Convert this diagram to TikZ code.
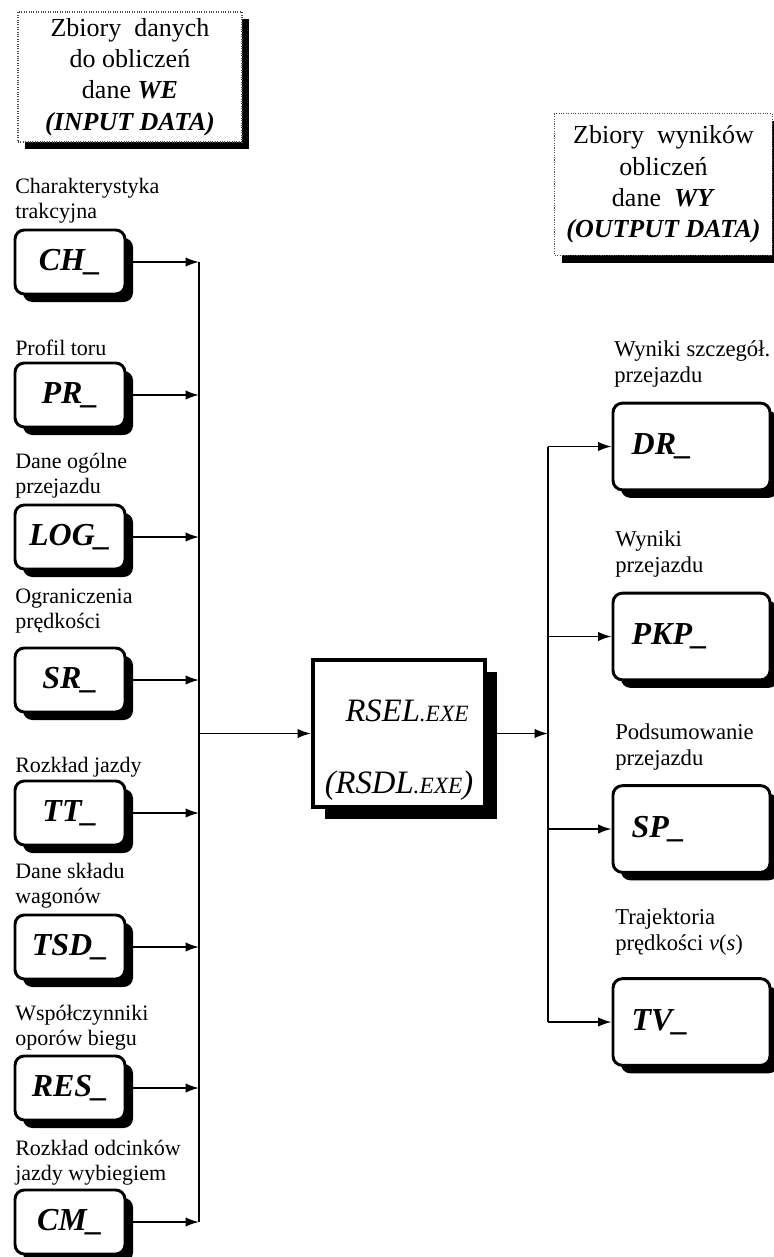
\documentclass[tikz,border=0pt]{standalone}
\usepackage{fontspec}
\setmainfont{Liberation Serif}
\usetikzlibrary{arrows.meta,shadows}

\newcommand{\smallexe}{{\fontsize{17.5}{17.5}\selectfont .EXE}}

\tikzset{
  hardshadow/.style={drop shadow={shadow xshift=#1, shadow yshift=-#1, fill=black, opacity=1}},
  groupbox/.style={draw=black!70, densely dotted, line width=0.8pt, fill=white,
    minimum width=168pt, minimum height=97.5pt, align=center, inner sep=2pt,
    font=\fontsize{19.5}{23.5}\selectfont, hardshadow=5.5pt},
  filebox/.style={draw, line width=2.2pt, rounded corners=7pt, fill=white,
    font=\fontsize{24}{24}\selectfont\bfseries\itshape, hardshadow=6pt},
  infile/.style={filebox, minimum width=82.5pt, minimum height=48pt, inner sep=0pt},
  outfile/.style={filebox, minimum height=65pt, inner xsep=14pt,
    text width=89.75pt, align=left},
  program/.style={draw, line width=3pt, fill=white, minimum width=129pt,
    minimum height=110pt, align=center, inner sep=0pt,
    font=\fontsize{24.5}{24.5}\selectfont\itshape, hardshadow=9pt},
  inlabel/.style={anchor=base west, align=left, inner sep=0pt,
    font=\fontsize{16.5}{18.5}\selectfont},
  outlabel/.style={anchor=base west, align=left, inner sep=0pt,
    font=\fontsize{17}{19.5}\selectfont},
  feed/.style={line width=1.3pt, -{Latex[length=10pt,width=7pt]}},
  bus/.style={line width=1pt}
}

\begin{document}
\begin{tikzpicture}[x=0.75pt, y=-0.75pt]
\useasboundingbox (0,0) rectangle (774,1257);

% headings of the two groups of files
\node[groupbox] (we) at (130,77)
  {Zbiory~~danych\\do obliczeń\\dane \textbf{\textit{WE}}\\\textbf{\textit{(INPUT DATA)}}};
\node[groupbox, minimum width=163pt, minimum height=106pt] (wy) at (663.5,184.5)
  {Zbiory~~wyników\\obliczeń\\dane~~\textbf{\textit{WY}}\\\textbf{\textit{(OUTPUT DATA)}}};

% input files
\node[infile] (ch)  at (70,262)  {CH\_};
\node[infile] (pr)  at (70,395)  {PR\_};
\node[infile] (log) at (70,537)  {LOG\_};
\node[infile] (sr)  at (70,680)  {SR\_};
\node[infile] (tt)  at (70,813)  {TT\_};
\node[infile] (tsd) at (70,947)  {TSD\_};
\node[infile] (res) at (70,1088) {RES\_};
\node[infile] (cm)  at (70,1222) {CM\_};

% captions above the input files (positions give the last baseline)
\node[inlabel] (chl)  at (15,218)  {Charakterystyka\\trakcyjna};
\node[inlabel] (prl)  at (15,355)  {Profil toru};
\node[inlabel] (logl) at (15,493)  {Dane ogólne\\przejazdu};
\node[inlabel] (srl)  at (15,628)  {Ograniczenia\\prędkości};
\node[inlabel] (ttl)  at (15,772)  {Rozkład jazdy};
\node[inlabel] (tsdl) at (15,903)  {Dane składu\\wagonów};
\node[inlabel] (resl) at (15,1045) {Współczynniki\\oporów biegu};
\node[inlabel] (cml)  at (15,1180) {Rozkład odcinków\\jazdy wybiegiem};

% the program
\node[program] (main) at (399,733.5)
  {\rule{0pt}{41pt}\hspace*{12pt}RSEL\smallexe\\[30pt](RSDL\smallexe)};

% output files
\node[outfile] (dr)  at (691.5,446.5) {DR\_};
\node[outfile] (pkp) at (691.5,636.5) {PKP\_};
\node[outfile] (sp)  at (691.5,829)   {SP\_};
\node[outfile] (tv)  at (691.5,1022)  {TV\_};

% captions above the output files (positions give the last baseline)
\node[outlabel] (drl)  at (614,382) {Wyniki szczegół.\\przejazdu};
\node[outlabel] (pkpl) at (615,572) {Wyniki\\przejazdu};
\node[outlabel] (spl)  at (615,765) {Podsumowanie\\przejazdu};
\node[outlabel] (tvl)  at (615,950) {Trajektoria\\prędkości \textit{v}(\textit{s})};

% collecting lines
\coordinate (busL) at (199,742);
\coordinate (busR) at (548,742);

\draw[bus] (busL |- ch.east) -- (busL |- cm.east);
\foreach \f in {ch,pr,log,sr,tt,tsd,res,cm}
  \draw[feed] (\f.east) -- (busL |- \f.east);
\draw[feed] (busL |- main.west) -- (main.west);

\draw[feed] (main.east) -- (busR |- main.east);
\draw[bus] (busR |- dr.west) -- (busR |- tv.west);
\foreach \f in {dr,pkp,sp,tv}
  \draw[feed] (busR |- \f.west) -- (\f.west);
\end{tikzpicture}
\end{document}
